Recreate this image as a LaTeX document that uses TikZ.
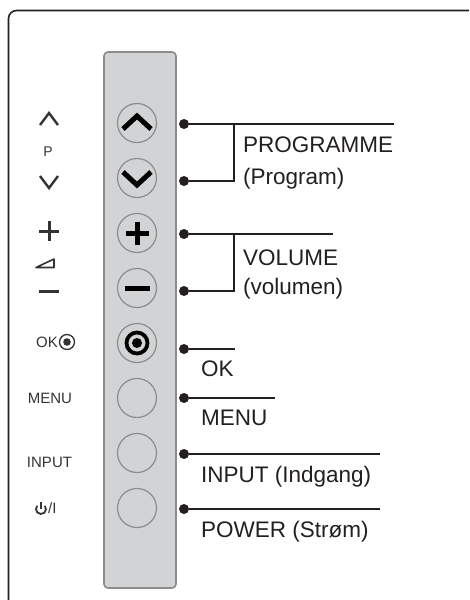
\documentclass[tikz,border=0pt]{standalone}
\usepackage{fontspec}
\setmainfont{Liberation Sans}
\usetikzlibrary{positioning}
\definecolor{panelgray}{HTML}{D1D3D4}
\definecolor{edgegray}{HTML}{8C8C8C}
\definecolor{ink}{HTML}{231F20}
\definecolor{markgray}{HTML}{333333}
\tikzstyle{button1} = [circle, minimum size=39pt, inner sep=0pt, outer sep=0pt, draw=edgegray, line width=1.2pt]
\tikzstyle{dot1} = [circle, fill=ink, minimum size=10pt, inner sep=0pt]
\tikzstyle{lead1} = [draw=ink, line width=1.6pt]
\tikzstyle{text1} = [font=\fontsize{22.5}{26}\selectfont, text=ink, anchor=base west, inner sep=0pt]
\tikzstyle{text2} = [font=\fontsize{15}{17}\selectfont, text=markgray, inner sep=0pt]
\tikzstyle{icon1} = [draw=black, line width=5pt]
\tikzstyle{mark1} = [draw=markgray, line width=2.4pt]

\begin{document}
\begin{tikzpicture}[x=1pt, y=-1pt]
			\useasboundingbox (0,0) rectangle (469,600);
			\clip (0,0) rectangle (469,600);
			% frame and panel
			\draw[ink, line width=1.6pt, rounded corners=8pt] (8.5,620) -- (8.5,10.5) -- (490,10.5);
			\draw[fill=panelgray, draw=edgegray, line width=1.6pt, rounded corners=4pt] (104,52) rectangle (176,588);
			% buttons
			\node[button1] (up) at (137,123) {};
			\node[button1, below=16pt of up] (down) {};
			\node[button1, below=16pt of down] (plus) {};
			\node[button1, below=16pt of plus] (minus) {};
			\node[button1, below=16pt of minus] (ok) {};
			\node[button1, below=16pt of ok] (menu) {};
			\node[button1, below=16pt of menu] (input) {};
			\node[button1, below=16pt of input] (power) {};
			\draw[icon1] (up.center) ++(-14,6) -- ++(14,-13) -- ++(14,13);
			\draw[icon1] (down.center) ++(-14,-6) -- ++(14,13) -- ++(14,-13);
			\draw[icon1] (plus.center) ++(-11.5,0) -- ++(23,0) (plus.center) ++(0,-11.5) -- ++(0,23);
			\draw[icon1] (minus.center) ++(-12.5,0) -- ++(25,0);
			\draw[black, line width=3.8pt] (ok.center) circle (10.5pt);
			\fill[black] (ok.center) circle (5pt);
			% dots and leads
			\node[dot1] (dUp) at (184,124) {};
			\node[dot1] (dDown) at (184,181) {};
			\node[dot1] (dPlus) at (184,234) {};
			\node[dot1] (dMinus) at (184,291) {};
			\node[dot1] (dOk) at (184,349) {};
			\node[dot1] (dMenu) at (184,398) {};
			\node[dot1] (dInput) at (184,454) {};
			\node[dot1] (dPower) at (184,509) {};
			\coordinate (progJoin) at (234,124);
			\coordinate (progEnd) at (394,124);
			\coordinate (volJoin) at (234,234);
			\coordinate (volEnd) at (333,234);
			\coordinate (okEnd) at (235,349);
			\coordinate (menuEnd) at (275,398);
			\coordinate (inputEnd) at (380,454);
			\coordinate (powerEnd) at (380,509);
			\draw[lead1] (dUp) -- (progEnd);
			\draw[lead1] (dDown) -| (progJoin);
			\draw[lead1] (dPlus) -- (volEnd);
			\draw[lead1] (dMinus) -| (volJoin);
			\draw[lead1] (dOk) -- (okEnd);
			\draw[lead1] (dMenu) -- (menuEnd);
			\draw[lead1] (dInput) -- (inputEnd);
			\draw[lead1] (dPower) -- (powerEnd);
			% labels
			\node[text1] (progText) at (243,152) {PROGRAMME};
			\node[text1] (progSub) at (243,184) {(Program)};
			\node[text1] (volText) at (243,265) {VOLUME};
			\node[text1] (volSub) at (243,294) {(volumen)};
			\node[text1] (okText) at (201,376) {OK};
			\node[text1] (menuText) at (201,425) {MENU};
			\node[text1] (inputText) at (201,482) {INPUT (Indgang)};
			\node[text1] (powerText) at (201,537) {POWER (Strøm)};
			% marks on the left
			\draw[mark1] (40,125) -- (49,113) -- (58,125);
			\node[text2, font=\fontsize{14}{16}\selectfont] (pMark) at (48,152) {P};
			\draw[mark1] (40,176) -- (49,188) -- (58,176);
			\draw[mark1, line width=3pt] (39,231) -- (59,231) (49,221) -- (49,241);
			\draw[markgray, line width=1.6pt, line join=round] (36,267.5) -- (54,259) -- (54,267.5) -- cycle;
			\draw[mark1, line width=3pt] (39,291) -- (59,291);
			\node[text2, anchor=east] (okMark) at (58,342) {OK};
			\draw[markgray, line width=1.3pt] (67,342) circle (7.5pt);
			\fill[markgray] (67,342) circle (3.8pt);
			\node[text2] (menuMark) at (50,398) {MENU};
			\node[text2] (inputMark) at (49.5,462) {INPUT};
			\draw[markgray, line width=1.8pt] (41,509) ++(320:5) arc[start angle=320, end angle=580, radius=5];
			\draw[markgray, line width=1.8pt] (41,509) -- (41,502);
			\node[text2, anchor=west] (powerMark) at (48,508) {/I};
		\end{tikzpicture}
\end{document}
